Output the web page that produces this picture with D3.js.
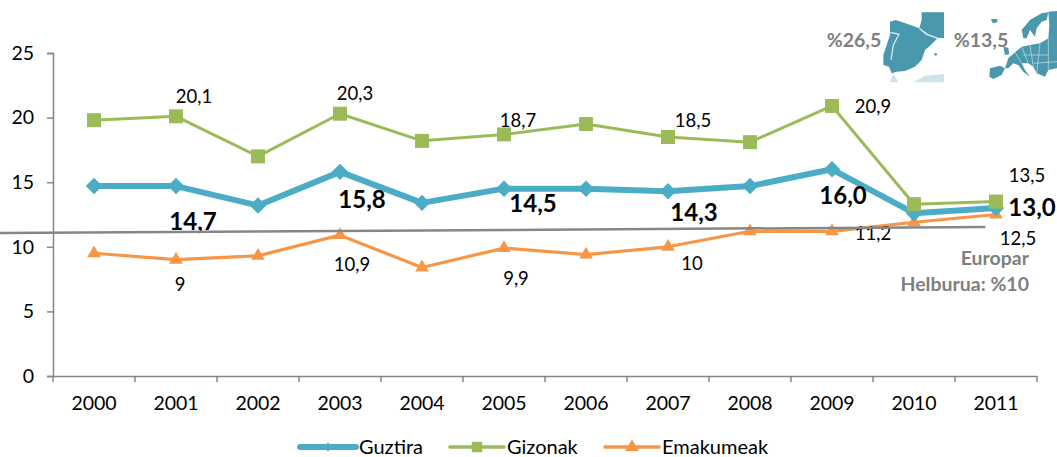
<!DOCTYPE html>
<html>
<head>
<meta charset="utf-8">
<script src="https://cdnjs.cloudflare.com/ajax/libs/d3/7.8.5/d3.min.js"></script>
<style>
  html, body { margin: 0; padding: 0; background: #fff; overflow: hidden; }
  text { font-family: Lato, "Open Sans", sans-serif; }
</style>
</head>
<body>
<script>
// chart data
var years = ["2000","2001","2002","2003","2004","2005","2006","2007","2008","2009","2010","2011"];
var guztira = [14.7,14.7,13.2,15.8,13.4,14.5,14.5,14.3,14.7,16.0,12.6,13.0];
var gizonak = [19.8,20.1,17.0,20.3,18.2,18.7,19.5,18.5,18.1,20.9,13.3,13.5];
var emakumeak = [9.5,9.0,9.3,10.9,8.4,9.9,9.4,10,11.2,11.2,11.9,12.5];
var yTicks = [0,5,10,15,20,25];
var seriesNames = ["Guztira","Gizonak","Emakumeak"];
// the grey line that crosses the plot
var refIndex = [-1.146,10.87];
var refValues = [11.07,11.53];

// labelled points: index into the series, text
var gizonakLabels = [[1,"20,1"],[3,"20,3"],[5,"18,7"],[7,"18,5"],[9,"20,9"],[11,"13,5"]];
var guztiraLabels = [[1,"14,7"],[3,"15,8"],[5,"14,5"],[7,"14,3"],[9,"16,0"],[11,"13,0"]];
var emakumeakLabels = [[1,"9"],[3,"10,9"],[5,"9,9"],[7,"10"],[9,"11,2"],[11,"12,5"]];

//label offsets from their point, same order as above
var gizonakOffsets = [[18,-20],[15,-20],[14,-14],[25,-16],[41,1],[31,-26]];
var guztiraOffsets = [[17,36],[22,28],[29,15],[26,21],[11,26],[36,0]];
var emakumeakOffsets = [[4,25],[12,29],[12,30],[24,17],[41,2],[22,24.5]];

var blue = "#4bacc6", green = "#9bbb59", orange = "#f79646", grey = "#868686";

var W = 1057, H = 457;
var svg = d3.select("body").append("svg")
    .attr("width", W)
    .attr("height", H);

//scales
var x = d3.scaleBand().domain(years).range([53, 1037]);
var xi = d3.scaleLinear().domain([0, 11]).range([x("2000") + x.bandwidth()/2, x("2011") + x.bandwidth()/2]);
var y = d3.scaleLinear().domain([0, 25]).range([376, 53]);

//axes
var xAxis = svg.append("g")
    .attr("transform", "translate(0," + y(0) + ")")
    .call(d3.axisBottom(x).tickSizeOuter(0).tickSize(0).tickPadding(20));
var yAxis = svg.append("g")
    .attr("transform", "translate(" + x.range()[0] + ",0)")
    .call(d3.axisLeft(y).tickValues(yTicks).tickSize(6).tickPadding(13));

[xAxis, yAxis].forEach(function(a) {
    a.attr("font-family", null).attr("font-size", null);
    a.select(".domain").attr("stroke", grey).attr("stroke-width", 1.5);
    a.selectAll("text").attr("fill", "#000").style("font-size", "19.5px");
    a.selectAll("line").attr("stroke", grey).attr("stroke-width", 1.5);
});

//ticks between the years
xAxis.selectAll(".sep")
    .data(d3.range(years.length + 1))
    .enter().append("line")
    .attr("x1", function(d) { return x.range()[0] + d * x.step(); })
    .attr("x2", function(d) { return x.range()[0] + d * x.step(); })
    .attr("y1", 0).attr("y2", 6)
    .attr("stroke", grey).attr("stroke-width", 1.5);

var line = d3.line()
    .x(function(d, i) { return xi(i); })
    .y(function(d) { return y(d); });

var sym = {
    diamond: d3.symbol().type(d3.symbolSquare).size(135),
    square: d3.symbol().type(d3.symbolSquare).size(196),
    triangle: d3.symbol().type(d3.symbolTriangle).size(80)
};

function drawSeries(values, color, width, markerPath, rot) {
    svg.append("path")
        .attr("d", line(values))
        .attr("fill", "none")
        .attr("stroke", color)
        .attr("stroke-width", width)
        .attr("stroke-linejoin", "round");
    svg.selectAll(null)
        .data(values)
        .enter().append("path")
        .attr("d", markerPath)
        .attr("fill", color)
        .attr("transform", function(d, i) { return "translate(" + xi(i) + "," + y(d) + ") rotate(" + rot + ")"; });
}

//maps in the corner, rough outlines
var maps = svg.append("g");
var spain = maps.append("g").attr("transform", "translate(875,5) scale(0.3333)");
spain.append("path").attr("fill", "#cfe3ea")
    .attr("d", "M45,232 L55,205 L70,232 Z M115,232 L150,212 L207,207 L207,232 Z");
spain.append("path").attr("fill", "#4a98ae")
    .attr("d", "M140,22 L207,22 L207,100 L188,98 L160,88 L133,70 L140,45 Z");
spain.append("path").attr("fill", "#4a98ae")
    .attr("d", "M45,50 L62,45 L100,58 L133,70 L155,88 L188,100 L165,122 L150,135 L140,165 L120,185 L90,198 L65,200 L50,205 L42,185 L25,180 L25,150 L35,120 L45,90 Z");
spain.append("path").attr("fill", "none").attr("stroke", "#d5e6ec").attr("stroke-width", 4)
    .attr("d", "M45,82 L72,88 L55,120 L48,165 M133,70 L155,88 L188,100");
spain.append("circle").attr("cx", 182).attr("cy", 148).attr("r", 4).attr("fill", "#4a98ae");

var europe = maps.append("g").attr("transform", "translate(980,5) scale(0.3333)");
europe.append("path").attr("fill", "#4a98ae")
    .attr("d", "M30,190 L60,182 L75,190 L65,210 L40,222 L28,215 Z");
europe.append("path").attr("fill", "#4a98ae")
    .attr("d", "M75,190 L85,160 L105,142 L125,125 L150,120 L180,115 L205,100 L208,60 L205,20 L231,18 L231,190 L205,195 L195,215 L170,205 L160,185 L145,175 L125,175 L135,195 L150,215 L130,200 L115,180 L100,175 L85,190 Z");
europe.append("path").attr("fill", "#4a98ae")
    .attr("d", "M130,100 L125,75 L150,45 L185,25 L205,22 L200,45 L185,50 L170,70 L165,95 L150,75 L140,100 Z");
europe.append("path").attr("fill", "#4a98ae")
    .attr("d", "M33,42 L52,42 L52,52 L38,55 Z M75,150 L70,125 L85,128 L88,148 Z");
europe.append("path").attr("fill", "none").attr("stroke", "#cfe3ea").attr("stroke-width", 2)
    .attr("d", "M105,142 L125,175 M125,125 L145,175 M150,120 L160,185 M180,115 L170,205 M130,150 L205,150 M160,175 L231,170 M205,100 L205,195");

maps.selectAll(".pct")
    .data([["%26,5",854],["%13,5",981]])
    .enter().append("text")
    .attr("x", function(d) { return d[1]; })
    .attr("y", 47)
    .attr("text-anchor", "middle")
    .attr("fill", "#7f7f7f")
    .style("font-size", "19.5px").style("font-weight", "700")
    .text(function(d) { return d[0]; });

//draw the series
drawSeries(emakumeak, orange, 3.2, sym.triangle(), 0);
drawSeries(guztira, blue, 6, sym.diamond(), 45);
drawSeries(gizonak, green, 3, sym.square(), 0);

//data labels
function drawLabels(labels, offsets, values, bold) {
    svg.selectAll(null)
        .data(labels)
        .enter().append("text")
        .attr("x", function(d, i) { return xi(d[0]) + offsets[i][0]; })
        .attr("y", function(d, i) { return y(values[d[0]]) + offsets[i][1]; })
        .attr("dy", ".35em")
        .attr("text-anchor", "middle")
        .attr("fill", "#000")
        .style("font-size", bold ? "24px" : "18.5px")
        .style("font-weight", bold ? "700" : "400")
        .text(function(d) { return d[1]; });
}
drawLabels(gizonakLabels, gizonakOffsets, gizonak, false);
drawLabels(emakumeakLabels, emakumeakOffsets, emakumeak, false);
drawLabels(guztiraLabels, guztiraOffsets, guztira, true);

//grey line goes on top
svg.append("line")
    .attr("x1", xi(refIndex[0])).attr("x2", xi(refIndex[1]))
    .attr("y1", y(refValues[0])).attr("y2", y(refValues[1]))
    .attr("stroke", grey).attr("stroke-width", 2.5);

//note
svg.selectAll(".note")
    .data(["Europar","Helburua: %10"])
    .enter().append("text")
    .attr("x", 1029)
    .attr("y", function(d, i) { return 265 + i * 26; })
    .attr("text-anchor", "end")
    .attr("fill", "#7f7f7f")
    .style("font-size", "19.5px").style("font-weight", "700")
    .text(function(d) { return d; });

//legend
var legendX = [300, 450, 605];
var legendLen = [56, 54, 54];
var legendColors = [blue, green, orange];
var legendW = [6, 3.5, 3.5];
var legendSym = [d3.symbol().type(d3.symbolSquare).size(40)(), d3.symbol().type(d3.symbolSquare).size(110)(), d3.symbol().type(d3.symbolTriangle).size(80)()];
var legend = svg.selectAll(".legend")
    .data(seriesNames)
    .enter().append("g")
    .attr("class", "legend")
    .attr("transform", function(d, i) { return "translate(" + legendX[i] + ",447)"; });
legend.append("line")
    .attr("x1", 0)
    .attr("x2", function(d, i) { return legendLen[i]; })
    .attr("stroke", function(d, i) { return legendColors[i]; })
    .attr("stroke-width", function(d, i) { return legendW[i]; })
    .attr("stroke-linecap", "round");
legend.append("path")
    .attr("d", function(d, i) { return legendSym[i]; })
    .attr("fill", function(d, i) { return legendColors[i]; })
    .attr("transform", function(d, i) { return "translate(" + legendLen[i]/2 + ",0) rotate(" + (i == 0 ? 45 : 0) + ")"; });
legend.append("text")
    .attr("x", function(d, i) { return legendLen[i] + 3; })
    .attr("dy", ".35em")
    .attr("fill", "#000")
    .style("font-size", "20px")
    .text(function(d) { return d; });
</script>
</body>
</html>
